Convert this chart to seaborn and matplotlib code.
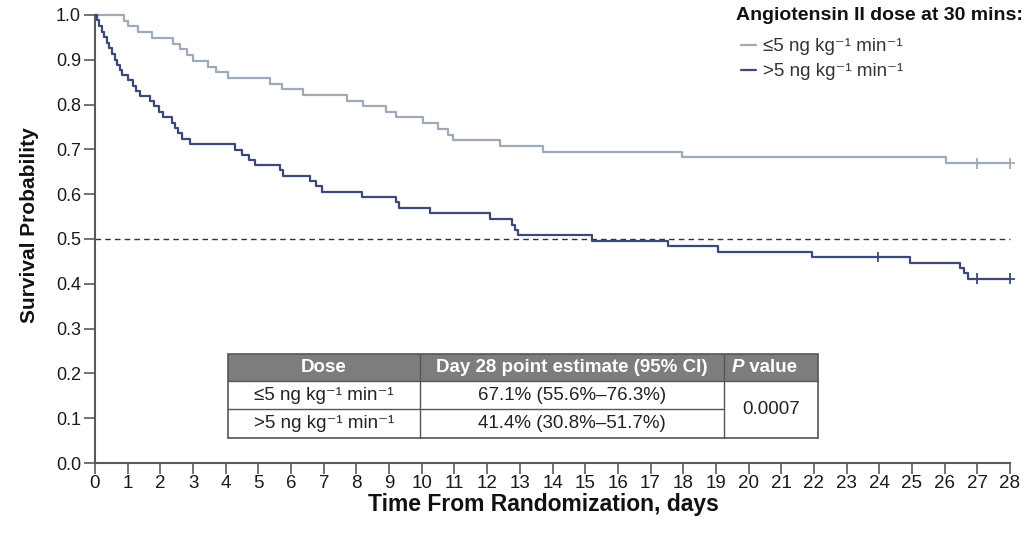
import numpy as np
import pandas as pd
import matplotlib
matplotlib.use("Agg")
import matplotlib.pyplot as plt
from matplotlib.lines import Line2D
from matplotlib.patches import Rectangle
import seaborn as sns

# ---------------- data ----------------
light_label = "≤5 ng kg⁻¹ min⁻¹"
dark_label = ">5 ng kg⁻¹ min⁻¹"

light_t = [0, 0.88, 1.0, 1.32, 1.73, 2.4, 2.6, 2.8, 3.0, 3.45, 3.7, 4.07, 5.36, 5.71,
           6.37, 7.72, 8.2, 8.9, 9.2, 10.04, 10.5, 10.8, 10.95, 12.4, 13.7, 17.95, 26.03, 28]
light_s = [1.0, 0.987, 0.975, 0.961, 0.949, 0.936, 0.923, 0.910, 0.897, 0.885, 0.872, 0.859,
           0.847, 0.834, 0.821, 0.809, 0.797, 0.784, 0.772, 0.759, 0.746, 0.733, 0.720, 0.708,
           0.695, 0.682, 0.669, 0.669]

dark_t = [0, 0.05, 0.12, 0.2, 0.28, 0.36, 0.44, 0.52, 0.61, 0.68, 0.75, 0.82, 1.02, 1.15,
          1.25, 1.38, 1.68, 1.8, 1.95, 2.09, 2.35, 2.45, 2.55, 2.65, 2.9, 4.28, 4.5, 4.7, 4.9,
          5.66, 5.76, 6.58, 6.75, 6.94, 8.16, 9.2, 9.3, 10.25, 12.09, 12.75, 12.85, 12.95,
          15.2, 17.53, 19.06, 21.94, 24.94, 26.47, 26.6, 26.7, 28]
dark_s = [1.0, 0.988, 0.976, 0.963, 0.951, 0.938, 0.926, 0.913, 0.900, 0.889, 0.877, 0.866,
          0.854, 0.842, 0.831, 0.820, 0.808, 0.796, 0.784, 0.772, 0.760, 0.748, 0.736, 0.724,
          0.712, 0.699, 0.687, 0.676, 0.665, 0.653, 0.641, 0.630, 0.618, 0.606, 0.594, 0.582,
          0.570, 0.557, 0.544, 0.532, 0.520, 0.508, 0.496, 0.484, 0.472, 0.460, 0.447, 0.435,
          0.423, 0.411, 0.411]

light_cens_t = [26.98, 28]
light_cens_s = [0.669, 0.669]
dark_cens_t = [23.96, 26.98, 28]
dark_cens_s = [0.460, 0.411, 0.411]

x_ticks = list(range(0, 29))
y_ticks = [0.0, 0.1, 0.2, 0.3, 0.4, 0.5, 0.6, 0.7, 0.8, 0.9, 1.0]

legend_title = "Angiotensin II dose at 30 mins:"
x_title = "Time From Randomization, days"
y_title = "Survival Probability"

table_header = ["Dose", "Day 28 point estimate (95% CI)", "P value"]
table_dose = [light_label, dark_label]
table_est = ["67.1% (55.6%\u201376.3%)", "41.4% (30.8%\u201351.7%)"]
table_p = "0.0007"

# ---------------- style ----------------
light_col = "#9eaab9"
dark_col = "#3b4878"
axis_col = "#5a5a5a"
palette = {light_label: light_col, dark_label: dark_col}

sns.set_style("ticks")
FAM = ["Liberation Sans", "DejaVu Sans"]
plt.rcParams["font.family"] = FAM

df = pd.concat([
    pd.DataFrame({"time": light_t, "surv": light_s, "dose": light_label}),
    pd.DataFrame({"time": dark_t, "surv": dark_s, "dose": dark_label}),
], ignore_index=True)
cens = pd.concat([
    pd.DataFrame({"time": light_cens_t, "surv": light_cens_s, "dose": light_label}),
    pd.DataFrame({"time": dark_cens_t, "surv": dark_cens_s, "dose": dark_label}),
], ignore_index=True)

W, H = 1034, 535
fig = plt.figure(figsize=(W / 100, H / 100), dpi=100)
ax = fig.add_axes([95 / W, (H - 463) / H, 915 / W, 448 / H])

ax.axhline(0.5, color="#333333", lw=1.0, ls=(0, (4, 3)), zorder=1)

sns.lineplot(data=df, x="time", y="surv", hue="dose", palette=palette,
             estimator=None, sort=False, drawstyle="steps-post", lw=1.6,
             legend=False, ax=ax, zorder=3)
for ln in ax.lines:
    ln.set_clip_on(False)

sns.scatterplot(data=cens, x="time", y="surv", hue="dose", palette=palette,
                marker="+", s=60, linewidth=1.3, legend=False, ax=ax, zorder=4,
                clip_on=False)

ax.set_xlim(0, 28)
ax.set_ylim(0, 1.0)
ax.set_xticks(x_ticks)
ax.set_xticklabels([str(t) for t in x_ticks], fontsize=13.5, color="#1a1a1a")
ax.set_yticks(y_ticks)
ax.set_yticklabels([f"{v:.1f}" for v in y_ticks], fontsize=13, color="#1a1a1a")

sns.despine(ax=ax)
for side in ("left", "bottom"):
    ax.spines[side].set_color(axis_col)
    ax.spines[side].set_linewidth(1.5)
ax.tick_params(axis="both", direction="out", length=8, width=1.2, color=axis_col)
ax.tick_params(axis="x", pad=1)
ax.tick_params(axis="y", pad=2)

ax.set_xlabel(x_title, fontsize=16.5, fontweight="bold", color="#111111")
ax.xaxis.set_label_coords(0.49, -0.068)
ax.xaxis.label.set_va("top")
ax.set_ylabel(y_title, fontsize=15, fontweight="bold", color="#111111")
ax.yaxis.set_label_coords(-0.072, 0.53)
ax.yaxis.label.set_va("center")

# legend: title as separate text, entries below
fig.text(736 / W, 1 - 16 / H, legend_title, ha="left", va="center",
         fontsize=14, fontweight="bold", color="#111111")
handles = [Line2D([], [], color=light_col, lw=1.6), Line2D([], [], color=dark_col, lw=1.6)]
leg = fig.legend(handles, [light_label, dark_label],
                 loc="upper left", bbox_to_anchor=(741 / W, 1 - 38 / H),
                 frameon=False, handlelength=0.8,
                 handletextpad=0.35, labelspacing=0.42, borderpad=0, borderaxespad=0,
                 prop={"family": FAM, "size": 13.5})
for t in leg.get_texts():
    t.set_color("#333333")

# table (figure pixel coordinates)
def fx(x):
    return x / W


def fy(y):
    return 1 - y / H


tx0, tx1, tx2, tx3 = 228, 420, 724, 818
ty0, ty1, ty2, ty3 = 354, 381, 409, 438
border = "#555555"
fig.add_artist(Rectangle((fx(tx0), fy(ty3)), fx(tx3) - fx(tx0), fy(ty0) - fy(ty3),
                         transform=fig.transFigure, facecolor="white", edgecolor="none", zorder=5))
fig.add_artist(Rectangle((fx(tx0), fy(ty1)), fx(tx3) - fx(tx0), fy(ty0) - fy(ty1),
                         transform=fig.transFigure, facecolor="#7d7d7d", edgecolor="none", zorder=6))
fig.add_artist(Rectangle((fx(tx0), fy(ty3)), fx(tx3) - fx(tx0), fy(ty0) - fy(ty3),
                         transform=fig.transFigure, facecolor="none", edgecolor=border, lw=1.2, zorder=7))
line_kw = dict(transform=fig.transFigure, color=border, lw=1.0, zorder=7)
fig.add_artist(Line2D([fx(tx1), fx(tx1)], [fy(ty0), fy(ty3)], **line_kw))
fig.add_artist(Line2D([fx(tx2), fx(tx2)], [fy(ty0), fy(ty3)], **line_kw))
fig.add_artist(Line2D([fx(tx0), fx(tx2)], [fy(ty2), fy(ty2)], **line_kw))
fig.add_artist(Line2D([fx(tx0), fx(tx3)], [fy(ty1), fy(ty1)], **line_kw))

hk = dict(color="white", fontsize=13.5, fontweight="bold", va="center", zorder=8)
ymid_h = fy((ty0 + ty1) / 2)
fig.text(fx((tx0 + tx1) / 2), ymid_h, table_header[0], ha="center", **hk)
fig.text(fx((tx1 + tx2) / 2), ymid_h, table_header[1], ha="center", **hk)
fig.text(fx(744), ymid_h, table_header[2][0], ha="right", style="italic", **hk)
fig.text(fx(744), ymid_h, table_header[2][1:], ha="left", **hk)

rk = dict(color="#222222", fontsize=13.5, va="center", ha="center", zorder=8)
for i, (dose, est) in enumerate(zip(table_dose, table_est)):
    ym = fy(((ty1, ty2)[i] + (ty2, ty3)[i]) / 2)
    fig.text(fx((tx0 + tx1) / 2), ym, dose, **rk)
    fig.text(fx((tx1 + tx2) / 2), ym, est, **rk)
fig.text(fx((tx2 + tx3) / 2), fy((ty1 + ty3) / 2), table_p, **rk)

fig.savefig("out.png", dpi=100)
